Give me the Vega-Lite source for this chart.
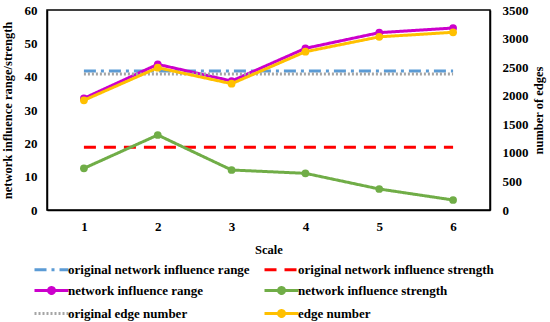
{
  "$schema": "https://vega.github.io/schema/vega-lite/v6.json",
  "width": 443,
  "height": 200,
  "autosize": {"type": "none"},
  "padding": {"left": 47, "top": 10, "right": 60, "bottom": 112},
  "config": {
    "font": "Liberation Serif",
    "view": {"stroke": "black", "strokeWidth": 1.5},
    "axis": {
      "grid": false,
      "ticks": false,
      "labelFont": "Liberation Serif",
      "labelFontWeight": "bold",
      "labelFontSize": 13,
      "labelColor": "black",
      "titleFont": "Liberation Serif",
      "titleFontWeight": "bold",
      "titleFontSize": 12.5,
      "titleColor": "black",
      "domainColor": "black",
      "domainWidth": 1.5
    },
    "legend": {
      "labelFont": "Liberation Serif",
      "labelFontWeight": "bold",
      "labelFontSize": 13,
      "labelColor": "black",
      "labelLimit": 400
    }
  },
  "data": {
    "values": [
      {"scale": 1, "series": "original network influence range", "value": 41.7},
      {"scale": 2, "series": "original network influence range", "value": 41.7},
      {"scale": 3, "series": "original network influence range", "value": 41.7},
      {"scale": 4, "series": "original network influence range", "value": 41.7},
      {"scale": 5, "series": "original network influence range", "value": 41.7},
      {"scale": 6, "series": "original network influence range", "value": 41.7},
      {"scale": 1, "series": "original network influence strength", "value": 18.8},
      {"scale": 2, "series": "original network influence strength", "value": 18.8},
      {"scale": 3, "series": "original network influence strength", "value": 18.8},
      {"scale": 4, "series": "original network influence strength", "value": 18.8},
      {"scale": 5, "series": "original network influence strength", "value": 18.8},
      {"scale": 6, "series": "original network influence strength", "value": 18.8},
      {"scale": 1, "series": "network influence range", "value": 33.5},
      {"scale": 2, "series": "network influence range", "value": 43.7},
      {"scale": 3, "series": "network influence range", "value": 38.7},
      {"scale": 4, "series": "network influence range", "value": 48.5},
      {"scale": 5, "series": "network influence range", "value": 53.2},
      {"scale": 6, "series": "network influence range", "value": 54.6},
      {"scale": 1, "series": "network influence strength", "value": 12.5},
      {"scale": 2, "series": "network influence strength", "value": 22.5},
      {"scale": 3, "series": "network influence strength", "value": 12.0},
      {"scale": 4, "series": "network influence strength", "value": 11.0},
      {"scale": 5, "series": "network influence strength", "value": 6.3},
      {"scale": 6, "series": "network influence strength", "value": 3.0},
      {"scale": 1, "series": "original edge number", "value": 2380},
      {"scale": 2, "series": "original edge number", "value": 2380},
      {"scale": 3, "series": "original edge number", "value": 2380},
      {"scale": 4, "series": "original edge number", "value": 2380},
      {"scale": 5, "series": "original edge number", "value": 2380},
      {"scale": 6, "series": "original edge number", "value": 2380},
      {"scale": 1, "series": "edge number", "value": 1920},
      {"scale": 2, "series": "edge number", "value": 2490},
      {"scale": 3, "series": "edge number", "value": 2210},
      {"scale": 4, "series": "edge number", "value": 2770},
      {"scale": 5, "series": "edge number", "value": 3030},
      {"scale": 6, "series": "edge number", "value": 3110}
    ]
  },
  "encoding": {
    "x": {
      "field": "scale",
      "type": "ordinal",
      "scale": {"type": "point", "padding": 0.5},
      "axis": {"labelAngle": 0, "title": "Scale", "labelPadding": 10, "titlePadding": 10}
    },
    "color": {
      "field": "series",
      "type": "nominal",
      "scale": {
        "domain": ["original network influence range", "original network influence strength", "network influence range", "network influence strength", "original edge number", "edge number"],
        "range": ["#5b9bd5", "#ff0000", "#cc00cc", "#70ad47", "#a5a5a5", "#ffc000"]
      },
      "legend": {
        "title": null,
        "orient": "none",
        "direction": "horizontal",
        "legendX": -2,
        "legendY": 253,
        "columns": 2,
        "columnPadding": 8,
        "rowPadding": 4,
        "padding": 0,
        "symbolType": "M-3.4,0H3.4",
        "symbolSize": 100,
        "symbolStrokeWidth": 3,
        "labelOffset": 10,
        "encode": {
          "symbols": {
            "update": {
              "shape": {"signal": "indexof(['network influence range','network influence strength','edge number'], datum.value) >= 0 ? 'M-3.4,0H3.4M-0.6,0A0.6,0.6,0,1,0,0.6,0A0.6,0.6,0,1,0,-0.6,0Z' : 'M-3.4,0H3.4'"},
              "fill": {"signal": "scale('color', datum.value)"},
              "fillOpacity": {"value": 1}
            }
          }
        }
      }
    },
    "strokeDash": {
      "field": "series",
      "type": "nominal",
      "scale": {
        "domain": ["original network influence range", "original network influence strength", "network influence range", "network influence strength", "original edge number", "edge number"],
        "range": [[12, 5, 3, 5], [12, 8], [1, 0], [1, 0], [2, 2], [1, 0]]
      },
      "legend": {
        "title": null,
        "orient": "none",
        "direction": "horizontal",
        "legendX": -2,
        "legendY": 253,
        "columns": 2,
        "columnPadding": 8,
        "rowPadding": 4,
        "padding": 0,
        "symbolType": "M-3.4,0H3.4",
        "symbolSize": 100,
        "symbolStrokeWidth": 3,
        "labelOffset": 10
      }
    }
  },
  "layer": [
    {
      "transform": [{"filter": {"field": "series", "oneOf": ["original network influence range", "original network influence strength", "network influence range", "network influence strength"]}}],
      "encoding": {
        "y": {
          "field": "value",
          "type": "quantitative",
          "scale": {"domain": [0, 60]},
          "axis": {"values": [0, 10, 20, 30, 40, 50, 60], "title": "network influence range/strength", "labelPadding": 10, "titlePadding": 10}
        }
      },
      "layer": [
        {"mark": {"type": "line", "strokeWidth": 3}},
        {
          "transform": [{"filter": {"field": "series", "oneOf": ["network influence range", "network influence strength"]}}],
          "mark": {"type": "circle", "size": 60, "opacity": 1}
        }
      ]
    },
    {
      "transform": [{"filter": {"field": "series", "oneOf": ["original edge number", "edge number"]}}],
      "encoding": {
        "y": {
          "field": "value",
          "type": "quantitative",
          "scale": {"domain": [0, 3500]},
          "axis": {"orient": "right", "format": "d", "values": [0, 500, 1000, 1500, 2000, 2500, 3000, 3500], "title": "number of edges", "titleAngle": 270, "labelPadding": 12, "titlePadding": 17}
        }
      },
      "layer": [
        {"mark": {"type": "line", "strokeWidth": 3}},
        {
          "transform": [{"filter": {"field": "series", "equal": "edge number"}}],
          "mark": {"type": "circle", "size": 60, "opacity": 1}
        }
      ]
    }
  ],
  "resolve": {"scale": {"y": "independent"}}
}
